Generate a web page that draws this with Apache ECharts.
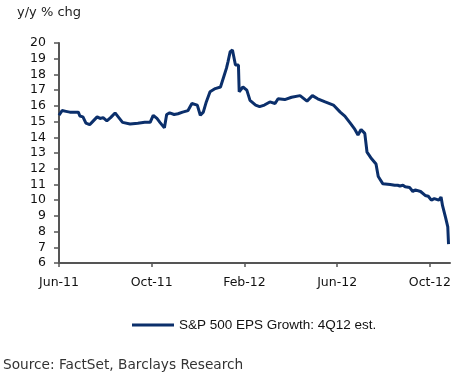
<!DOCTYPE html>
<html>
<head>
<meta charset="utf-8">
<script src="https://cdn.jsdelivr.net/npm/echarts@6/dist/echarts.min.js"></script>
<style>
html,body{margin:0;padding:0;background:#fff;}
#chart{width:458px;height:381px;}
</style>
</head>
<body>
<div id="chart"></div>
<script>
var seriesName = 'S&P 500 EPS Growth: 4Q12 est.';
var dates = [
'2011-06-01','2011-06-05','2011-06-10','2011-06-15','2011-06-22','2011-06-26','2011-06-28','2011-07-02','2011-07-06','2011-07-11',
'2011-07-14','2011-07-21','2011-07-25','2011-07-29','2011-08-03','2011-08-08','2011-08-14','2011-08-19','2011-08-24','2011-09-03',
'2011-09-13','2011-09-22','2011-09-29','2011-10-03','2011-10-08','2011-10-12','2011-10-18','2011-10-21','2011-10-25','2011-10-31',
'2011-11-05','2011-11-11','2011-11-18','2011-11-23','2011-11-30','2011-12-04','2011-12-08','2011-12-12','2011-12-17','2011-12-24',
'2011-12-31','2012-01-02','2012-01-05','2012-01-08','2012-01-10','2012-01-13','2012-01-16','2012-01-18','2012-01-20','2012-01-24',
'2012-01-25','2012-01-30','2012-02-04','2012-02-08','2012-02-15','2012-02-20','2012-02-26','2012-03-04','2012-03-11','2012-03-15',
'2012-03-24','2012-04-02','2012-04-13','2012-04-22','2012-04-29','2012-05-06','2012-05-16','2012-05-27','2012-06-05','2012-06-11',
'2012-06-18','2012-06-24','2012-06-28','2012-07-02','2012-07-07','2012-07-10','2012-07-15','2012-07-22','2012-07-25','2012-07-31',
'2012-08-10','2012-08-16','2012-08-20','2012-08-23','2012-08-27','2012-08-30','2012-09-05','2012-09-09','2012-09-12','2012-09-14',
'2012-09-19','2012-09-25','2012-09-29','2012-10-03','2012-10-07','2012-10-10','2012-10-13','2012-10-16','2012-10-18','2012-10-22',
'2012-10-25','2012-10-26'
];
var values = [
15.4,15.7,15.65,15.6,15.6,15.6,15.35,15.3,14.9,14.8,
14.95,15.3,15.2,15.25,15.05,15.25,15.55,15.25,14.95,14.85,
14.9,14.95,14.95,15.4,15.2,14.95,14.6,15.45,15.55,15.45,
15.5,15.6,15.7,16.15,16.05,15.4,15.6,16.25,16.9,17.1,
17.2,17.3,17.95,18.4,18.8,19.45,19.55,19.45,18.6,18.6,
16.9,17.2,17.0,16.35,16.05,15.95,16.05,16.25,16.15,16.45,
16.4,16.55,16.65,16.3,16.65,16.45,16.25,16.05,15.6,15.35,
14.9,14.5,14.15,14.5,14.25,13.05,12.7,12.3,11.5,11.05,
11.0,10.95,10.95,10.9,10.95,10.85,10.8,10.55,10.65,10.7,
10.55,10.3,10.25,10.0,10.1,10.05,10.0,10.2,9.65,8.9,
8.3,7.2
];
var xTickLabels = ['Jun-11','Oct-11','Feb-12','Jun-12','Oct-12'];
var yTitle = 'y/y % chg';
var sourceText = 'Source: FactSet, Barclays Research';

function monthIndex(s) {
  var p = s.split('-');
  var y = +p[0], m = +p[1], d = +p[2];
  var dim = new Date(y, m, 0).getDate();
  return (y - 2011) * 12 + (m - 6) + (d - 1) / dim;
}
var points = dates.map(function (d, i) { return [monthIndex(d), values[i]]; });
var tickPos = xTickLabels.map(function (_, i) { return i * 4; });

var chart = echarts.init(document.getElementById('chart'), null, {renderer: 'canvas'});
chart.setOption({
  animation: false,
  backgroundColor: '#fff',
  title: [
    {text: yTitle, left: 12, top: 1, textStyle: {fontFamily: 'DejaVu Sans', fontSize: 13, fontWeight: 'normal', color: '#222'}},
    {text: sourceText, left: -2, top: 353, textStyle: {fontFamily: 'DejaVu Sans', fontSize: 13.7, fontWeight: 'normal', color: '#333'}}
  ],
  legend: {
    left: 127, top: 313,
    itemWidth: 42, itemHeight: 3,
    icon: 'rect',
    textStyle: {fontFamily: 'Liberation Sans', fontSize: 13.5, color: '#111', padding: [0, 0, 8, 0]},
    data: [seriesName]
  },
  grid: {left: 59, right: 8, top: 43, bottom: 118, containLabel: false},
  xAxis: {
    type: 'value', min: 0, max: 16.87,
    splitLine: {show: false},
    axisLine: {lineStyle: {color: '#555', width: 2}},
    axisTick: {show: true, length: 4, customValues: tickPos, lineStyle: {color: '#555', width: 1.5}},
    axisLabel: {
      customValues: tickPos, margin: 13,
      fontFamily: 'DejaVu Sans', fontSize: 12.5, color: '#111',
      formatter: function (v) { var i = Math.round(v / 4); return xTickLabels[i] || ''; }
    }
  },
  yAxis: {
    type: 'value', min: 6, max: 20, interval: 1,
    splitLine: {show: false},
    axisLine: {show: true, lineStyle: {color: '#555', width: 2}},
    axisTick: {show: true, length: 5, lineStyle: {color: '#555', width: 1.5}},
    axisLabel: {margin: 13, fontFamily: 'DejaVu Sans', fontSize: 12.5, color: '#111'}
  },
  series: [{
    name: seriesName, type: 'line', data: points,
    showSymbol: false, symbol: 'none',
    lineStyle: {color: '#0b2f6b', width: 3},
    itemStyle: {color: '#0b2f6b'}
  }]
});
</script>
</body>
</html>
